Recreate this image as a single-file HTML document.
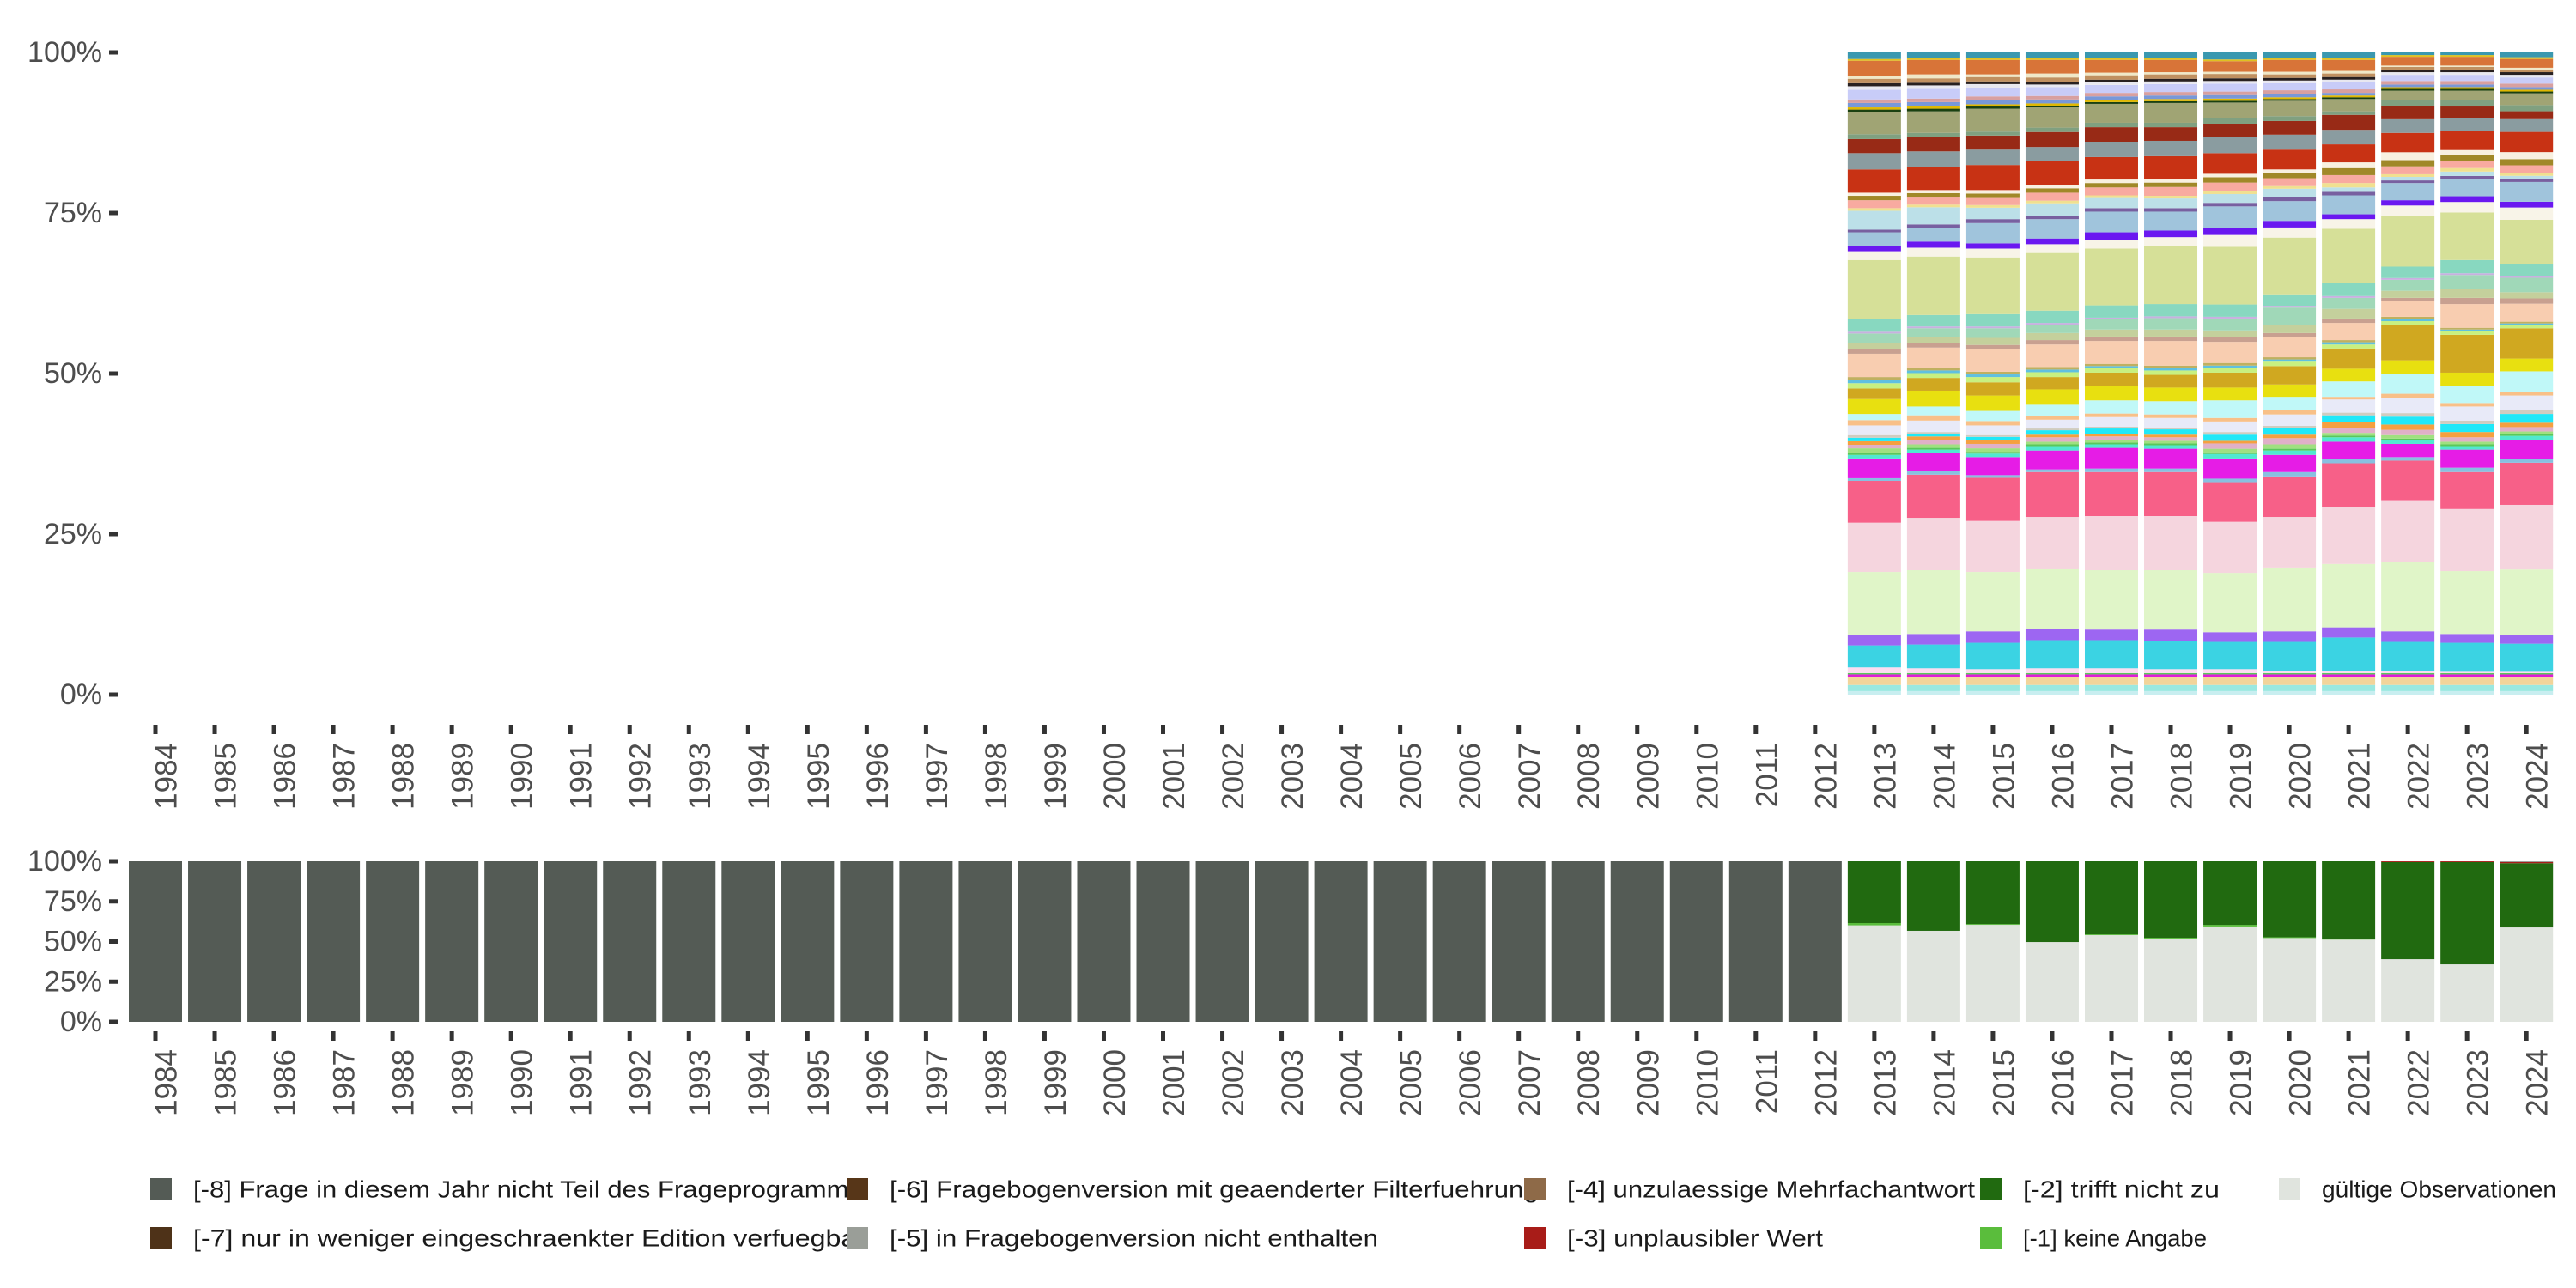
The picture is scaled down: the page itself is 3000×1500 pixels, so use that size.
<!DOCTYPE html>
<html><head><meta charset="utf-8"><style>
html,body{margin:0;padding:0;background:#fff;}
svg{display:block;font-family:"Liberation Sans",sans-serif;}
</style></head><body>
<svg id="chart" width="3000" height="1500" viewBox="0 0 3000 1500" xmlns="http://www.w3.org/2000/svg">
<g id="top"></g>
<g id="bottom"></g>
<g id="legend"></g>
</svg>
<script>
// ---------- data ----------
const years = [1984,1985,1986,1987,1988,1989,1990,1991,1992,1993,1994,1995,1996,1997,1998,1999,2000,2001,2002,2003,2004,2005,2006,2007,2008,2009,2010,2011,2012,2013,2014,2015,2016,2017,2018,2019,2020,2021,2022,2023,2024];
const detailYears = [2013,2014,2015,2016,2017,2018,2019,2020,2021,2022,2023,2024];
const yTickLabels = ["0%","25%","50%","75%","100%"];
const yTickValues = [0,0.25,0.5,0.75,1];

// top panel series (bottom -> top), relative counts per detail year
const s01 = [8,8,8,8,8,8,8,8,8,8,8,8];
const s02 = [14,14,14,14,14,14,14,14,14,14,14,14];
const s03 = [18,18,18,18,18,18,18,18,18,18,18,18];
const s04 = [6,6,6,6,6,6,6,6,6,6,6,6];
const s05 = [3,3,3,3,3,3,3,3,3,3,3,3];
const s06 = [13,11,9,11,11,9,9,5,5,5,3,3];
const s07 = [50,54,60,64,64,64,62,66,76,66,66,64];
const s08 = [24,24,26,26,24,26,22,24,23,24,20,20];
const s09 = [143,145,135,135,135,135,135,145,144,157,143,149];
const s10 = [112,119,116,119,123,123,116,115,129,141,141,147];
const s11 = [95,98,98,102,100,100,90,92,100,90,84,96];
const s12 = [6,8,6,6,8,8,8,10,10,8,10,8];
const s13 = [45,41,41,43,47,45,46,39,39,30,41,43];
const s14 = [8,8,8,10,8,8,10,10,10,8,8,10];
const s15 = [5,4,4,4,4,4,4,4,4,4,4,4];
const s16 = [10,8,8,6,6,6,8,10,6,8,6,6];
const s17 = [8,10,10,10,8,8,12,14,12,12,10,10];
const s18 = [8,8,8,6,6,6,6,8,12,12,12,10];
const s19 = [8,6,8,10,12,12,14,16,16,18,18,20];
const s20 = [6,4,4,4,4,4,6,4,6,8,8,8];
const s21 = [22,26,22,20,22,22,24,26,30,34,32,34];
const s22 = [12,12,10,8,8,8,8,10,6,10,8,8];
const s23 = [14,20,23,26,30,30,40,30,35,46,39,47];
const s24 = [34,36,35,35,32,31,29,28,29,30,30,29];
const s25 = [24,29,30,28,31,29,34,42,46,81,86,69];
const s26 = [12,11,12,11,10,10,11,10,9,8,8,7];
const s27 = [8,6,6,6,5,5,5,5,5,5,4,4];
const s28 = [6,6,6,6,5,6,6,5,5,5,4,4];
const s29 = [53,46,51,51,52,56,48,45,39,35,54,41];
const s30 = [10,10,10,10,10,10,10,10,10,8,14,12];
const s31 = [14,14,16,16,16,16,16,18,22,16,20,14];
const s32 = [22,20,22,19,23,26,27,40,25,25,32,33];
const s33 = [4,4,4,4,4,4,4,4,4,4,4,4];
const s34 = [28,26,28,28,28,28,28,26,30,26,30,28];
const s35 = [135,133,129,131,129,132,131,129,123,115,108,100];
const s36 = [20,20,20,20,20,20,27,23,22,24,24,28];
const s37 = [12,14,12,13,17,15,16,15,11,12,13,13];
const s38 = [31,30,46,44,47,43,49,45,43,39,39,45];
const s39 = [6,9,9,7,8,8,8,10,8,6,7,6];
const s40 = [43,39,26,29,23,22,20,18,10,8,10,8];
const s41 = [6,6,6,6,6,6,6,6,10,6,8,6];
const s42 = [18,16,16,18,18,20,20,18,18,18,16,18];
const s43 = [10,10,10,10,10,10,12,12,16,14,14,14];
const s44 = [7,7,8,8,8,9,8,8,13,18,11,16];
const s45 = [53,53,57,55,51,51,47,45,41,44,44,46];
const s46 = [37,35,35,31,35,35,36,34,33,31,28,29];
const s47 = [32,32,32,34,33,31,31,31,34,30,27,18];
const s48 = [11,10,9,10,10,10,12,11,8,13,14,14];
const s49 = [50,49,52,46,43,45,36,35,28,22,22,27];
const s50 = [6,6,5,4,4,4,4,4,4,4,4,4];
const s51 = [5,5,5,5,5,5,5,4,4,4,4,4];
const s52 = [10,10,10,9,8,8,8,8,6,6,6,6];
const s53 = [8,8,8,8,8,8,8,8,8,8,8,8];
const s54 = [22,22,20,20,18,18,18,16,16,14,14,14];
const s55 = [8,8,8,6,6,6,6,6,6,6,6,6];
const s56 = [7,6,6,6,6,6,6,6,6,6,6,6];
const s57 = [10,10,10,10,10,10,10,8,8,6,6,6];
const s58 = [6,9,6,9,6,5,5,6,6,3,3,4];
const s59 = [35,33,33,31,29,28,24,27,25,20,20,20];
const s60 = [4,4,4,4,4,4,4,4,4,4,4,4];
const s61 = [15,13,13,13,13,13,16,13,13,6,6,11];
const topSeries = [s01,s02,s03,s04,s05,s06,s07,s08,s09,s10,s11,s12,s13,s14,s15,s16,s17,s18,s19,s20,s21,s22,s23,s24,s25,s26,s27,s28,s29,s30,s31,s32,s33,s34,s35,s36,s37,s38,s39,s40,s41,s42,s43,s44,s45,s46,s47,s48,s49,s50,s51,s52,s53,s54,s55,s56,s57,s58,s59,s60,s61];
const topColors = ["#c8eef0","#9ae8e0","#f2d49a","#e01bd8","#5ac85a","#fcdcf0","#3bd3e3","#9d66f2","#e0f5c8","#f5d5de","#f76088","#88c0e0","#e61ce6","#50e8d0","#5ac85a","#a0e080","#e0b0c8","#f5a040","#20e8f8","#d0ccc0","#e8eaf8","#f8c088","#c0f8f8","#e8e010","#d0a820","#c8f080","#60c0e0","#c0b060","#f8cdb0","#c8a090","#c4d09c","#a0d8b8","#c8b0e0","#88d8c0","#d6e098","#f8f4e8","#6a18f0","#a0c4dc","#7860a0","#bce0e8","#f0e090","#f8aaa0","#a08828","#f8f0e0","#c83214","#8a9ca0","#982a16","#80a080","#a0a474","#1a4010","#e0b800","#7898d8","#d8a0a0","#c8ccf8","#e8e8f0","#282020","#c09060","#f0e8c8","#d87438","#e0c020","#3a98b0"];

// bottom panel (percent), bottom -> top for 2013..2024
const validObs = [60.1,56.7,60.4,49.7,54.0,51.9,59.4,52.2,51.2,39.0,35.8,58.8];
const noAnswer = [1.4,0,0.5,0,0.5,0.5,1.0,0.5,0.5,0,0,0];
const implausible = [0,0,0,0,0,0,0,0,0,0.5,0.5,0.7];
const notInVersion = [0,0,0,0,0,0,0,0,0,0,0,0.5];
const notApplicable = validObs.map((v,i)=>100-v-noAnswer[i]-implausible[i]-notInVersion[i]);

const legendLabels = ["[-8] Frage in diesem Jahr nicht Teil des Frageprogramms","[-7] nur in weniger eingeschraenkter Edition verfuegbar","[-6] Fragebogenversion mit geaenderter Filterfuehrung","[-5] in Fragebogenversion nicht enthalten","[-4] unzulaessige Mehrfachantwort","[-3] unplausibler Wert","[-2] trifft nicht zu","[-1] keine Angabe","gültige Observationen"];
const legendColors = ["#545b55","#4e3218","#573618","#9a9e98","#8e6a48","#a81c18","#216a10","#5abd3c","#e0e4de"];

// ---------- layout ----------
const NS = "http://www.w3.org/2000/svg";
const X0 = 181, STEP = 69.03, BW = 62;
const xOf = i => X0 + i*STEP;
const topY = v => 809 - v*(809-61);
const botY = v => 1190 - v*(1190-1003);
function mk(tag, attrs, parent){const e=document.createElementNS(NS,tag);for(const k in attrs)e.setAttribute(k,attrs[k]);parent.appendChild(e);return e;}

function axes(g, yFn, tickY, labY){
  yTickValues.forEach((v,k)=>{
    const t = mk('line',{x1:127,x2:138,y1:yFn(v),y2:yFn(v),stroke:'#333',"stroke-width":5},g);
    
    
    const l = mk('text',{x:119,y:yFn(v),"text-anchor":"end","dominant-baseline":"central","font-size":34,fill:'#4d4d4d'},g);
    l.textContent = yTickLabels[k];
    
    
  });
  years.forEach((yr,i)=>{
    const x = xOf(i);
    const t = mk('line',{x1:x,x2:x,y1:tickY,y2:tickY+11,stroke:'#333',"stroke-width":5},g);
    
    
    const l = mk('text',{x:0,y:0,transform:`translate(${x+13},${labY}) rotate(-90)`,"text-anchor":"end","dominant-baseline":"central","font-size":35,fill:'#4d4d4d'},g);
    l.textContent = yr;
    
    
  });
}

// top panel
const gt = document.getElementById('top');
axes(gt, topY, 844, 865);
detailYears.forEach((yr,j)=>{
  const i = years.indexOf(yr);
  const total = topSeries.reduce((a,s)=>a+s[j],0);
  let cum = 0;
  topSeries.forEach((s,k)=>{
    const y1 = topY(cum/total), y2 = topY((cum+s[j])/total);
    cum += s[j];
    const r = mk('rect',{x:xOf(i)-BW/2,y:y2,width:BW,height:Math.max(0,y1-y2),fill:topColors[k]},gt);
    
    
  });
});

// bottom panel
const gb = document.getElementById('bottom');
axes(gb, botY, 1201, 1222);
years.forEach((yr,i)=>{
  const j = detailYears.indexOf(yr);
  let parts;
  if(j<0){ parts=[[100,legendColors[0]]]; }
  else parts=[[validObs[j],legendColors[8]],[noAnswer[j],legendColors[7]],[notApplicable[j],legendColors[6]],[implausible[j],legendColors[5]],[notInVersion[j],legendColors[3]]];
  let cum=0;
  parts.forEach(p=>{
    const y1=botY(cum/100), y2=botY((cum+p[0])/100);
    cum+=p[0];
    const r = mk('rect',{x:xOf(i)-BW/2,y:y2,width:BW,height:Math.max(0,y1-y2),fill:p[1]},gb);
    
    
  });
});

// legend
const gl = document.getElementById('legend');
const legPos = [[175,1385,779],[175,1442,783],[986,1385,756],[986,1442,569],[1775,1385,475],[1775,1442,298],[2306,1385,229],[2306,1442,214],[2654,1385,273]];
legendLabels.forEach((lab,k)=>{
  const p = legPos[k];
  const sq = mk('rect',{x:p[0],y:p[1]-13,width:25,height:25,fill:legendColors[k]},gl);
  
  
  const t = mk('text',{x:p[0]+50,y:p[1],"dominant-baseline":"central","font-size":28,fill:'#1a1a1a',textLength:p[2],lengthAdjust:'spacingAndGlyphs'},gl);
  t.textContent = lab;
  
  
});
</script>
</body></html>
